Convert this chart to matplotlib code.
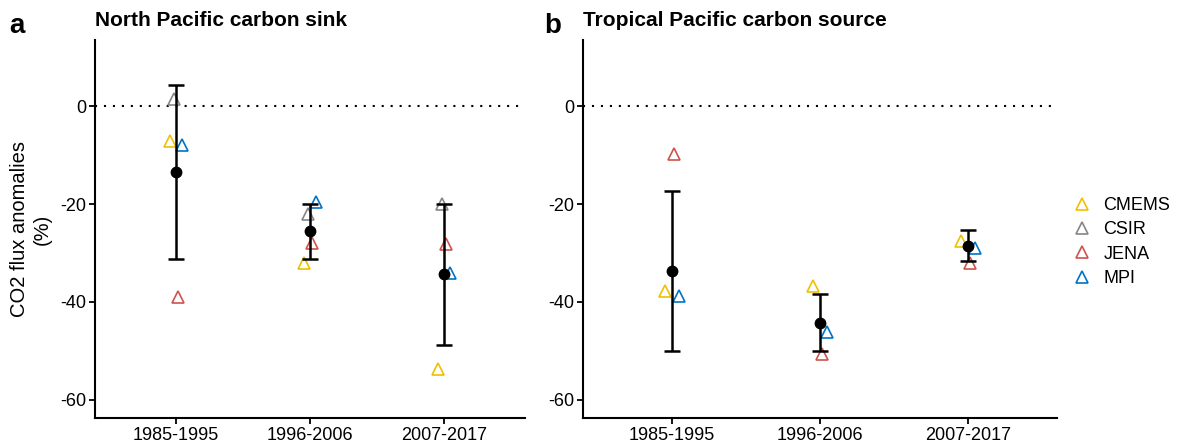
import numpy as np
import matplotlib
matplotlib.use("Agg")
from matplotlib import pyplot as plt
from matplotlib.lines import Line2D

plt.rcParams['font.family'] = ['Liberation Sans', 'DejaVu Sans']

periods = ["1985-1995", "1996-2006", "2007-2017"]
products = ["CMEMS", "CSIR", "JENA", "MPI"]
colors = ["#EFC000", "#868686", "#CD534C", "#0073C2"]

# North Pacific (panel a)
np_cmems = [-7.1, -32.1, -53.7]
np_csir = [1.4, -22.0, -19.9]
np_jena = [-39.0, -28.0, -28.2]
np_mpi = [-7.9, -19.5, -34.1]
np_mean = [-13.4, -25.6, -34.2]
np_upper = [4.3, -20.0, -19.9]
np_lower = [-31.2, -31.3, -48.7]

# Tropical Pacific (panel b), no CSIR shown
tp_cmems = [-37.8, -36.8, -27.5]
tp_csir = [np.nan, np.nan, np.nan]
tp_jena = [-9.8, -50.7, -32.0]
tp_mpi = [-38.7, -46.1, -29.0]
tp_mean = [-33.7, -44.2, -28.5]
tp_upper = [-17.4, -38.4, -25.4]
tp_lower = [-50.0, -50.1, -31.6]

dodge = [-0.045, -0.015, 0.015, 0.045]

fig = plt.figure(figsize=(11.77, 4.47), dpi=100)
ax1 = fig.add_axes([0.0807, 0.0649, 0.3653, 0.8456])
ax2 = fig.add_axes([0.4953, 0.0649, 0.4027, 0.8456])

panels = [
    (ax1, [np_cmems, np_csir, np_jena, np_mpi], np_mean, np_upper, np_lower, "North Pacific carbon sink"),
    (ax2, [tp_cmems, tp_csir, tp_jena, tp_mpi], tp_mean, tp_upper, tp_lower, "Tropical Pacific carbon source"),
]

x = np.arange(len(periods))
for ax, series, mean, upper, lower, title in panels:
    ax.axhline(0, color="black", linestyle=(0, (1, 3.3)), linewidth=1.5, zorder=1)
    for i in range(len(products)):
        ax.plot(x + dodge[i], series[i], linestyle="none", marker="^", markersize=8.5,
                markerfacecolor="none", markeredgecolor=colors[i], markeredgewidth=1.2, zorder=2)
    mean = np.array(mean)
    err = [mean - np.array(lower), np.array(upper) - mean]
    ax.errorbar(x, mean, yerr=err, fmt="o", color="black", markersize=7.5,
                elinewidth=1.8, capsize=5.5, capthick=1.8, zorder=3)
    ax.set_xlim(-0.6, 2.6)
    ax.set_ylim(-63.7, 13.5)
    ax.set_xticks(x)
    ax.set_xticklabels(periods)
    ax.set_yticks([0, -20, -40, -60])
    ax.set_yticklabels(["0", "-20", "-40", "-60"])
    ax.tick_params(axis="both", labelsize=13, length=4, width=1.3, colors="black", pad=2.5)
    ax.spines["top"].set_visible(False)
    ax.spines["right"].set_visible(False)
    ax.spines["left"].set_linewidth(1.5)
    ax.spines["bottom"].set_linewidth(1.5)
    ax.set_title(title, fontsize=15, fontweight="bold", loc="left", pad=10)

ax1.set_ylabel("CO2 flux anomalies\n(%)", fontsize=14.5, labelpad=6)

fig.text(0.008, 0.942, "a", fontsize=20, fontweight="bold", va="center")
fig.text(0.462, 0.942, "b", fontsize=20, fontweight="bold", va="center")

handles = [Line2D([], [], linestyle="none", marker="^", markersize=8, markerfacecolor="none",
                  markeredgecolor=c, markeredgewidth=1.2) for c in colors]
fig.legend(handles, products, loc="center left", bbox_to_anchor=(0.9025, 0.4586), frameon=False,
           fontsize=13, borderpad=0, handletextpad=0.57, labelspacing=0.4, handlelength=1.2)

fig.savefig("out.png", dpi=100)
